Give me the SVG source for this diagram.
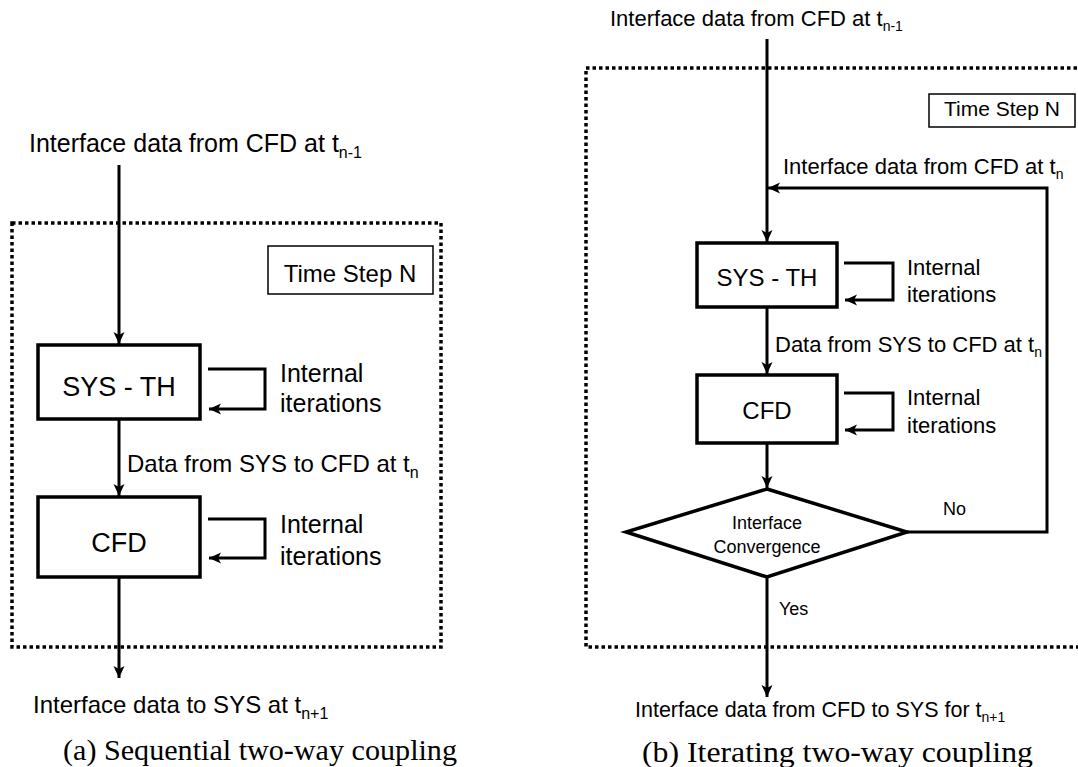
<svg xmlns="http://www.w3.org/2000/svg" width="1078" height="767" viewBox="0 0 1078 767">
<style>
.box{fill:#fff;stroke:#000;stroke-width:3.5}
.thin{fill:#fff;stroke:#000;stroke-width:1.5}
.ln{fill:none;stroke:#000;stroke-width:3}
.dot{fill:none;stroke:#000;stroke-width:3.5;stroke-dasharray:3.5 3}
.sans{font-family:"Liberation Sans",Arial,sans-serif;fill:#000}
.cap{font-family:"Liberation Serif","Times New Roman",Times,serif;font-size:29px;fill:#000}
</style>
<defs>
<marker id="ah" markerUnits="userSpaceOnUse" markerWidth="14" markerHeight="12" refX="12" refY="6" orient="auto">
<path d="M0,0.5 L12,6 L0,11.5 L3,6 z" fill="#000"/>
</marker>
</defs>
<rect width="1078" height="767" fill="#fff"/>

<!-- (a) Sequential -->
<g id="a-frame"><rect class="dot" x="12" y="223" width="429" height="424"/></g>
<g id="a-timestep"><rect class="thin" x="268" y="246" width="165" height="48"/><text class="sans" x="350" y="282" font-size="24" text-anchor="middle">Time Step N</text></g>
<g id="a-connectors">
<line class="ln" x1="119" y1="165" x2="119" y2="344" marker-end="url(#ah)"/>
<line class="ln" x1="119" y1="419" x2="119" y2="496" marker-end="url(#ah)"/>
<line class="ln" x1="119" y1="577" x2="119" y2="678" marker-end="url(#ah)"/>
<polyline class="ln" points="208,369 265,369 265,409 209,409" marker-end="url(#ah)"/>
<polyline class="ln" points="208,519 265,519 265,558 209,558" marker-end="url(#ah)"/>
</g>
<g id="a-sys"><rect class="box" x="38" y="345" width="162" height="74"/><text class="sans" x="119" y="396" font-size="27" text-anchor="middle">SYS - TH</text></g>
<g id="a-cfd"><rect class="box" x="38" y="497" width="162" height="80"/><text class="sans" x="119" y="552" font-size="27" text-anchor="middle">CFD</text></g>
<g id="a-labels" class="sans" font-size="25">
<text x="29" y="152">Interface data from CFD at t<tspan font-size="16" dy="6">n-1</tspan></text>
<text x="280" y="382">Internal</text>
<text x="280" y="412">iterations</text>
<text x="127" y="472" font-size="24">Data from SYS to CFD at t<tspan font-size="16" dy="6">n</tspan></text>
<text x="280" y="533">Internal</text>
<text x="280" y="565">iterations</text>
<text x="33" y="713" font-size="24">Interface data to SYS at t<tspan font-size="16" dy="6">n+1</tspan></text>
</g>
<text class="cap" x="63" y="760" textLength="394" lengthAdjust="spacingAndGlyphs" style="font-family:'Liberation Serif','Times New Roman',Times,serif">(a) Sequential two-way coupling</text>

<!-- (b) Iterating -->
<g id="b-frame"><rect class="dot" x="586" y="68" width="500" height="579"/></g>
<g id="b-timestep"><rect class="thin" x="929" y="94" width="146" height="33"/><text class="sans" x="1002" y="116" font-size="21" text-anchor="middle">Time Step N</text></g>
<g id="b-connectors">
<line class="ln" x1="767" y1="39" x2="767" y2="242" marker-end="url(#ah)"/>
<polyline class="ln" points="907,532 1047,532 1047,188 768,188" marker-end="url(#ah)"/>
<line class="ln" x1="767" y1="307" x2="767" y2="374" marker-end="url(#ah)"/>
<line class="ln" x1="767" y1="443" x2="767" y2="488" marker-end="url(#ah)"/>
<line class="ln" x1="767" y1="577" x2="767" y2="697" marker-end="url(#ah)"/>
<polyline class="ln" points="844,263 893,263 893,300 845,300" marker-end="url(#ah)"/>
<polyline class="ln" points="844,393 893,393 893,430 845,430" marker-end="url(#ah)"/>
</g>
<g id="b-sys"><rect class="box" x="697" y="243" width="140" height="64"/><text class="sans" x="767" y="286" font-size="24" text-anchor="middle">SYS - TH</text></g>
<g id="b-cfd"><rect class="box" x="697" y="375" width="140" height="68"/><text class="sans" x="767" y="419" font-size="24" text-anchor="middle">CFD</text></g>
<g id="b-decision"><polygon class="box" points="767,489 907,532 767,577 626,532"/>
<text class="sans" x="767" y="529" font-size="18" text-anchor="middle">Interface</text>
<text class="sans" x="767" y="553" font-size="18" text-anchor="middle">Convergence</text></g>
<g id="b-labels" class="sans" font-size="22">
<text x="610" y="26">Interface data from CFD at t<tspan font-size="14" dy="5">n-1</tspan></text>
<text x="783" y="174">Interface data from CFD at t<tspan font-size="14" dy="5">n</tspan></text>
<text x="907" y="275">Internal</text>
<text x="907" y="302">iterations</text>
<text x="775" y="352">Data from SYS to CFD at t<tspan font-size="14" dy="5">n</tspan></text>
<text x="907" y="405">Internal</text>
<text x="907" y="433">iterations</text>
<text x="943" y="515" font-size="18">No</text>
<text x="779" y="615" font-size="18">Yes</text>
<text x="635" y="717" font-size="21.5">Interface data from CFD to SYS for t<tspan font-size="14" dy="5">n+1</tspan></text>
</g>
<text class="cap" x="642" y="762" textLength="391" lengthAdjust="spacingAndGlyphs" style="font-family:'Liberation Serif','Times New Roman',Times,serif">(b) Iterating two-way coupling</text>
</svg>
